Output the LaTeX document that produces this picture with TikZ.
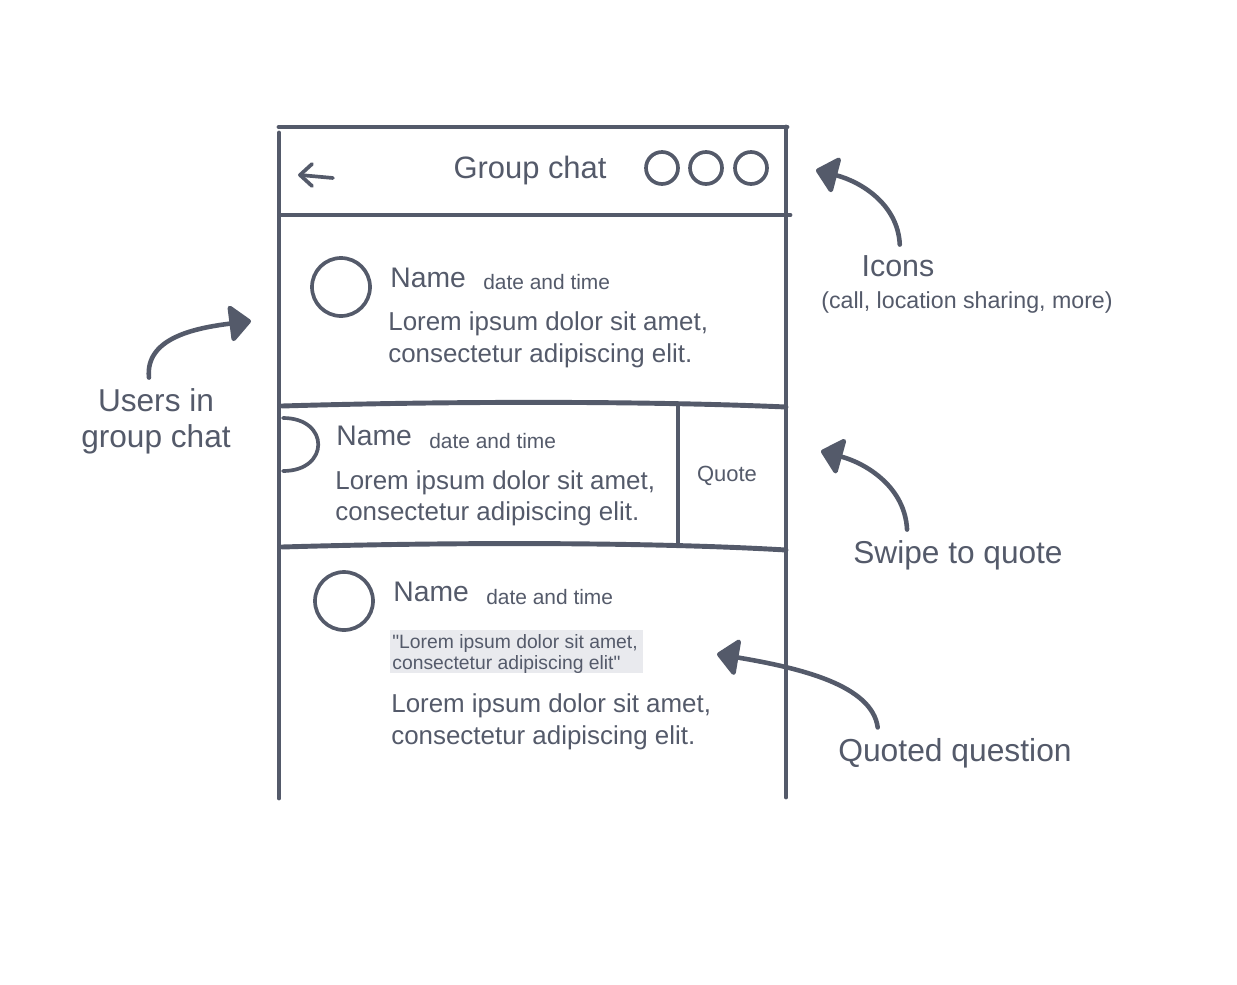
\documentclass[tikz,border=0pt]{standalone}
\usepackage{fontspec}
\setmainfont{Liberation Sans}[Ligatures=TeXOff]
\usetikzlibrary{arrows.meta}
\definecolor{slate}{HTML}{545A6A}
\definecolor{quotebg}{HTML}{E9EAEE}
\def\fs#1{\fontsize{#1}{#1}\selectfont}

\begin{document}
\begin{tikzpicture}[x=0.02cm, y=-0.02cm, line cap=round, line join=round,
		phoneline/.style={line width=2.8pt, color=slate},
		sketch/.style={line width=2.1pt, color=slate},
		pointer/.style={line width=2.6pt, color=slate, -{Triangle[length=13pt, width=23pt, round]}},
		txt/.style={text=slate, inner sep=0pt, anchor=base west},
		note/.style={text=slate, inner sep=0pt, outer sep=6pt, anchor=base}]
			%%%%% START %%%%%
			
			\fill[white] (0, 0) rectangle (1237, 984);
			
			\draw[phoneline] (279, 127) -- (787, 127);
			\draw[phoneline] (279, 133) -- (279, 798);
			\draw[phoneline] (786, 127) -- (786, 797);
			\draw[phoneline] (281, 215) -- (790, 215);
			
			\draw[sketch] (333, 178) -- (300, 175);
			\draw[sketch] (312, 164) -- (300, 175) -- (312, 186);
			\node[note, font=\fs{17.6}] (title) at (530, 178) {Group chat};
			\draw[sketch] (662, 168) circle (16);
			\draw[sketch] (706, 168) circle (16);
			\draw[sketch] (751, 168) circle (16);
			\coordinate (tgticons) at (816, 170);
			
			\draw[sketch] (341, 287) circle (29);
			\node[txt, font=\fs{16.1}] (name1) at (390, 287) {Name};
			\node[txt, font=\fs{11.9}] (date1) at (483, 289) {date and time};
			\node[txt, font=\fs{14.75}] (body1a) at (388, 330) {Lorem ipsum dolor sit amet,};
			\node[txt, font=\fs{14.75}] (body1b) at (388, 362) {consectetur adipiscing elit.};
			\coordinate (tgtusers) at (251, 321);
			
			\draw[phoneline] (282, 406) .. controls (450, 401) and (650, 401) .. (786, 407);
			\draw[phoneline] (282, 547) .. controls (450, 542) and (650, 542) .. (786, 550);
			\draw[phoneline] (678, 407) -- (678, 545);
			\draw[sketch] (283, 418) .. controls (330, 418) and (330, 471) .. (283, 471);
			\node[txt, font=\fs{16.1}] (name2) at (336, 445) {Name};
			\node[txt, font=\fs{11.9}] (date2) at (429, 448) {date and time};
			\node[txt, font=\fs{14.75}] (body2a) at (335, 489) {Lorem ipsum dolor sit amet,};
			\node[txt, font=\fs{14.75}] (body2b) at (335, 520) {consectetur adipiscing elit.};
			\node[note, font=\fs{12.5}] (quote) at (727, 481) {Quote};
			\coordinate (tgtswipe) at (821, 451);
			
			\draw[sketch] (344, 601) circle (29);
			\node[txt, font=\fs{16.1}] (name3) at (393, 601) {Name};
			\node[txt, font=\fs{11.9}] (date3) at (486, 604) {date and time};
			\fill[quotebg] (390, 630) rectangle (643, 673);
			\node[txt, font=\fs{11}] (quoted1) at (392, 648) {"Lorem ipsum dolor sit amet,};
			\node[txt, font=\fs{11}] (quoted2) at (392, 669) {consectetur adipiscing elit"};
			\node[txt, font=\fs{14.75}] (body3a) at (391, 712) {Lorem ipsum dolor sit amet,};
			\node[txt, font=\fs{14.75}] (body3b) at (391, 744) {consectetur adipiscing elit.};
			\coordinate (tgtquoted) at (717, 654);
			
			\node[note, font=\fs{17.3}] (icons) at (898, 276) {Icons};
			\node[note, font=\fs{13.2}] (iconlist) at (967, 308) {(call, location sharing, more)};
			\node[note, font=\fs{18}] (users1) at (156, 411) {Users in};
			\node[note, font=\fs{18}] (users2) at (156, 447) {group chat};
			\node[note, font=\fs{18}] (swipe) at (958, 563) {Swipe to quote};
			\node[note, font=\fs{18.1}] (quotedq) at (955, 761) {Quoted question};
			
			\draw[pointer] ([xshift=1pt]icons.north) .. controls (898, 205) and (862, 182) .. (tgticons);
			\draw[pointer] ([xshift=-4pt]users1.north) .. controls (145, 338) and (195, 328) .. (tgtusers);
			\draw[pointer] ([xshift=-29pt]swipe.north) .. controls (905, 488) and (868, 464) .. (tgtswipe);
			\draw[pointer] ([xshift=-44pt]quotedq.north) .. controls (872, 685) and (800, 668) .. (tgtquoted);
			
			%%%%% END %%%%%
		\end{tikzpicture}
\end{document}
